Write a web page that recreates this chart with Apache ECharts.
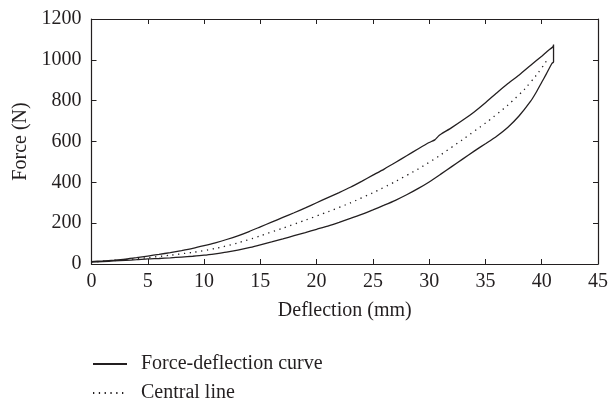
<!DOCTYPE html>
<html>
<head>
<meta charset="utf-8">
<script src="https://cdn.jsdelivr.net/npm/echarts@6/dist/echarts.min.js"></script>
<style>
html,body{margin:0;padding:0;background:#fff;}
#chart{width:611px;height:406px;}
</style>
</head>
<body>
<div id="chart"></div>
<script>
// Loading branch (upper curve)
var loadDeflection = [0, 1, 2, 3, 4, 5, 6, 7, 8, 9, 10, 11, 12, 13, 14, 15, 16, 17, 18, 19, 20, 21, 22, 23, 24, 25, 26, 27, 28, 29, 30, 30.5, 30.8, 31, 32, 33, 34, 35, 36, 37, 38, 39, 40, 40.5, 41, 41.05];
var loadForce      = [12, 15, 19, 24, 31, 39, 47, 56, 66, 77, 90, 104, 120, 138, 159, 182, 205, 228, 251, 275, 300, 325, 350, 376, 405, 435, 465, 497, 530, 563, 595, 608, 625, 634, 668, 705, 745, 790, 838, 884, 926, 972, 1018, 1042, 1064, 1075];
// Unloading branch (lower curve), from max deflection back to zero
var unloadDeflection = [41.05, 40.9, 40.4, 40, 39.5, 39, 38, 37, 36, 35, 34, 33, 32, 31, 30, 29, 28, 27, 26, 25, 24, 23, 22, 21, 20, 19, 18, 17, 16, 15, 14, 13, 12, 11, 10, 9, 8, 7, 6, 5, 4, 3, 2, 1, 0];
var unloadForce      = [990, 982, 930, 890, 840, 796, 726, 670, 626, 589, 553, 515, 477, 439, 402, 369, 339, 312, 288, 265, 243, 223, 204, 186, 170, 154, 139, 123, 108, 94, 80, 68, 58, 50, 43, 38, 34, 30, 27, 25, 21, 18, 15, 12, 9];
// Central line
var centralDeflection = [0, 2, 4, 6, 8, 10, 12, 14, 16, 18, 20, 22, 24, 26, 28, 30, 32, 34, 36, 38, 39, 40, 40.4];
var centralForce      = [10, 17, 26, 37, 50, 66, 89, 120, 157, 195, 235, 277, 324, 376, 434, 498, 572, 650, 733, 830, 890, 960, 993];

var xTicks = [0, 45, 5];
var yTicks = [0, 1200, 200];
var seriesNames = ['Force-deflection curve', 'Central line'];

function pairs(xs, ys) { var out = []; for (var i = 0; i < xs.length; i++) out.push([xs[i], ys[i]]); return out; }
var loopData = pairs(loadDeflection, loadForce).concat(pairs(unloadDeflection, unloadForce));
var centralData = pairs(centralDeflection, centralForce);

var FONT = '"Liberation Serif", "Times New Roman", serif';
var INK = '#231f20';

var chart = echarts.init(document.getElementById('chart'), null, {renderer: 'canvas'});
function frameAxis(extra) {
  var base = {
    type: 'value',
    axisLine: {show: true, onZero: false, lineStyle: {color: INK, width: 1.2}},
    axisTick: {show: true, inside: true, length: 5, lineStyle: {color: INK, width: 1}},
    splitLine: {show: false}
  };
  for (var k in extra) base[k] = extra[k];
  return base;
}
function plain(v) { return String(v); }
chart.setOption({
  animation: false,
  backgroundColor: '#fff',
  textStyle: {fontFamily: FONT, color: INK},
  grid: {left: 91.5, right: 9, top: 19, bottom: 142, containLabel: false},
  xAxis: [
    frameAxis({min: xTicks[0], max: xTicks[1], interval: xTicks[2], position: 'bottom',
      name: 'Deflection (mm)', nameLocation: 'middle', nameGap: 37,
      nameTextStyle: {fontFamily: FONT, fontSize: 20, color: INK},
      axisLabel: {show: true, margin: 8, fontFamily: FONT, fontSize: 20, color: INK, formatter: plain}}),
    frameAxis({min: xTicks[0], max: xTicks[1], interval: xTicks[2], position: 'top', axisLabel: {show: false}})
  ],
  yAxis: [
    frameAxis({min: yTicks[0], max: yTicks[1], interval: yTicks[2], position: 'left',
      name: 'Force (N)', nameLocation: 'middle', nameGap: 54,
      nameTextStyle: {fontFamily: FONT, fontSize: 20, color: INK},
      axisLabel: {show: true, margin: 10, fontFamily: FONT, fontSize: 20, color: INK, formatter: plain}}),
    frameAxis({min: yTicks[0], max: yTicks[1], interval: yTicks[2], position: 'right', axisLabel: {show: false}})
  ],
  legend: {
    show: true,
    orient: 'vertical', left: 92, top: 354, padding: 0, height: 52,
    itemWidth: 34, itemHeight: 14, itemGap: 9,
    itemStyle: {opacity: 0},
    data: seriesNames,
    textStyle: {fontFamily: FONT, fontSize: 20, lineHeight: 20, color: INK, padding: [0, 0, 0, 9]}
  },
  series: [
    {name: seriesNames[0], type: 'line', xAxisIndex: 0, yAxisIndex: 0, data: loopData,
      showSymbol: false, symbol: 'none', smooth: 0.2,
      lineStyle: {color: INK, width: 1.3, type: 'solid'}, itemStyle: {color: INK}},
    {name: seriesNames[1], type: 'line', xAxisIndex: 0, yAxisIndex: 0, data: centralData,
      showSymbol: false, symbol: 'none', smooth: true,
      lineStyle: {color: INK, width: 1.3, type: [1.3, 4.5]}, itemStyle: {color: INK}}
  ]
});
</script>
</body>
</html>
